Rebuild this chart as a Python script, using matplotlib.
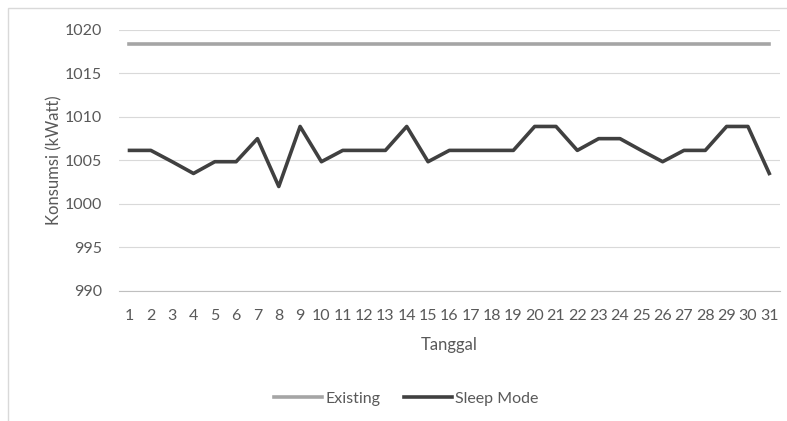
import matplotlib.pyplot as plt
from matplotlib.patches import Rectangle

# daily consumption data
tanggal = list(range(1, 32))
existing = [1018.4] * 31
sleep_mode = [1006.15, 1006.15, 1004.85, 1003.5, 1004.85, 1004.85, 1007.5, 1002.0,
              1008.9, 1004.85, 1006.15, 1006.15, 1006.15, 1008.9, 1004.85, 1006.15,
              1006.15, 1006.15, 1006.15, 1008.9, 1008.9, 1006.15, 1007.5, 1007.5,
              1006.15, 1004.85, 1006.15, 1006.15, 1008.9, 1008.9, 1003.5]
y_ticks = [990, 995, 1000, 1005, 1010, 1015, 1020]

plt.rcParams['font.family'] = ['Lato', 'DejaVu Sans']
txt = '#595959'

fig = plt.figure(figsize=(7.87, 4.21), dpi=100)
fig.patches.append(Rectangle((8 / 787, -0.01), 1.0, 1 - 8 / 421 + 0.01,
                             transform=fig.transFigure, fill=False,
                             edgecolor='#d9d9d9', linewidth=1))
ax = fig.add_axes([0.151, 0.309, 0.84, 0.62])

ax.plot(tanggal, existing, color='#a5a5a5', linewidth=2.6, label='Existing')
ax.plot(tanggal, sleep_mode, color='#404040', linewidth=2.6, label='Sleep Mode')

ax.set_xlim(0.5, 31.5)
ax.set_ylim(990, 1020)
ax.set_yticks(y_ticks)
ax.set_xticks(tanggal)
ax.grid(axis='y', color='#d9d9d9', linewidth=0.8)
ax.set_axisbelow(True)
for s in ['top', 'right', 'left']:
    ax.spines[s].set_visible(False)
ax.spines['bottom'].set_color('#bfbfbf')
ax.tick_params(length=0, labelsize=11.5, colors=txt, pad=13)
ax.tick_params(axis='y', pad=12)

ax.set_xlabel('Tanggal', fontsize=12, color=txt, labelpad=10)
ax.set_ylabel('Konsumsi (kWatt)', fontsize=12, color=txt, labelpad=2)

ax.legend(loc='upper center', bbox_to_anchor=(0.435, -0.33), ncol=2, frameon=False,
          fontsize=11.5, labelcolor=txt, handlelength=3, handletextpad=0.2,
          columnspacing=1.5)

fig.savefig('out.png', dpi=100)
